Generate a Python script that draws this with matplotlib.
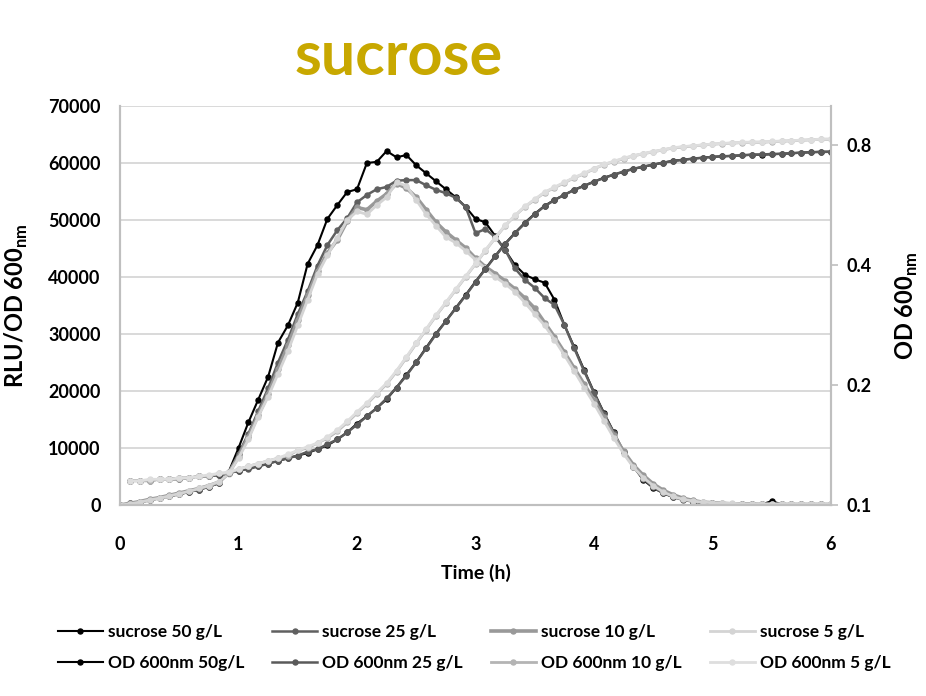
import numpy as np
import matplotlib
matplotlib.use("Agg")
import matplotlib.pyplot as plt
from matplotlib.ticker import FixedLocator, FixedFormatter, NullLocator

plt.rcParams['font.family'] = ['Lato', 'DejaVu Sans']
plt.rcParams['font.weight'] = 'bold'
plt.rcParams['mathtext.fontset'] = 'custom'
plt.rcParams['mathtext.rm'] = 'Lato:bold'
plt.rcParams['mathtext.bf'] = 'Lato:bold'

# time points, every 5 minutes (h)
time = np.arange(73) / 12.0
time_od = time[1:]

# RLU/OD600 per sucrose concentration
rlu_50 = [0, 300, 600, 900, 1300, 1600, 1900, 2300, 2700, 3200, 3800, 5800, 10000,
          14500, 18500, 22500, 28500, 31500, 35500, 42300, 45600, 50200, 52600, 54900,
          55400, 60000, 60200, 62100, 61000, 61400, 59600, 58200, 56800, 55400, 54000,
          52300, 50200, 49600, 47200, 44700, 42100, 40400, 39600, 39000, 36000, 31600,
          27700, 23700, 19800, 16200, 12800, 9300, 6700, 4400, 3000, 2100, 1400, 1000,
          600, 400, 300, 200, 100, 100, 100, 100, 700, 100, 100, 100, 100, 100, 100]
rlu_25 = [0, 200, 500, 800, 1200, 1500, 1900, 2300, 2700, 3200, 3900, 5700, 9000,
          12500, 16500, 20500, 25000, 29000, 33500, 37500, 42000, 45600, 48200, 50300,
          53100, 54400, 55400, 55800, 56900, 57000, 57000, 56100, 55300, 54700, 53900,
          52300, 47700, 48400, 47000, 44800, 41500, 39500, 38100, 36300, 35100, 31600,
          27500, 23500, 19700, 16000, 12700, 9300, 6800, 4600, 3100, 2100, 1400, 900,
          600, 400, 300, 200, 200, 100, 100, 100, 100, 100, 100, 100, 100, 100, 100]
rlu_10 = [0, 300, 600, 1000, 1300, 1700, 2100, 2500, 2900, 3400, 4000, 5600, 8500,
          12000, 15800, 19500, 23800, 28000, 32500, 36800, 41000, 44200, 46500, 49800,
          52200, 51800, 53300, 54600, 56400, 55600, 54000, 51800, 49600, 47900, 46500,
          45100, 43300, 41800, 40600, 39300, 37900, 36300, 34500, 32000, 29500, 26800,
          24000, 21200, 18400, 15400, 12300, 9400, 7000, 5200, 3700, 2600, 1800, 1200,
          800, 500, 400, 300, 200, 200, 200, 100, 100, 100, 100, 100, 100, 100, 100]
rlu_5 = [0, 200, 500, 900, 1200, 1600, 2000, 2400, 2900, 3400, 4100, 5500, 8200,
         11500, 15500, 19000, 23000, 27000, 31500, 36000, 40500, 43800, 46800, 50000,
         51500, 51000, 52600, 54000, 56600, 56000, 53500, 51000, 49000, 47000, 46000,
         44600, 43000, 41500, 40000, 38800, 37400, 35500, 33500, 31500, 29000, 26300,
         23500, 20600, 17800, 14800, 11800, 9000, 6600, 4800, 3400, 2300, 1500, 1000,
         700, 500, 400, 300, 300, 200, 200, 200, 200, 200, 200, 200, 200, 200, 200]

# OD 600nm per sucrose concentration
od_50 = [0.115, 0.115, 0.1153, 0.116, 0.116, 0.116, 0.117, 0.118, 0.118, 0.119, 0.120,
         0.122, 0.124, 0.125, 0.127, 0.129, 0.131, 0.133, 0.135, 0.138, 0.141, 0.146,
         0.152, 0.160, 0.167, 0.175, 0.184, 0.197, 0.212, 0.228, 0.248, 0.269, 0.289,
         0.312, 0.336, 0.363, 0.391, 0.421, 0.452, 0.481, 0.510, 0.537, 0.562, 0.582,
         0.599, 0.617, 0.631, 0.646, 0.661, 0.673, 0.684, 0.696, 0.704, 0.713, 0.721,
         0.729, 0.733, 0.738, 0.742, 0.746, 0.748, 0.750, 0.752, 0.755, 0.755, 0.757,
         0.759, 0.761, 0.764, 0.766, 0.768, 0.768]
od_25 = [0.115, 0.115, 0.115, 0.116, 0.116, 0.117, 0.117, 0.118, 0.118, 0.119, 0.120,
         0.122, 0.123, 0.125, 0.127, 0.129, 0.131, 0.133, 0.136, 0.138, 0.142, 0.146,
         0.152, 0.159, 0.167, 0.175, 0.185, 0.197, 0.211, 0.228, 0.247, 0.268, 0.289,
         0.311, 0.335, 0.362, 0.390, 0.420, 0.451, 0.480, 0.508, 0.536, 0.561, 0.581,
         0.599, 0.616, 0.631, 0.646, 0.660, 0.673, 0.685, 0.696, 0.705, 0.713, 0.721,
         0.728, 0.733, 0.738, 0.742, 0.745, 0.748, 0.750, 0.753, 0.755, 0.756, 0.758,
         0.759, 0.762, 0.764, 0.766, 0.767, 0.768]
od_10 = [0.115, 0.115, 0.115, 0.116, 0.116, 0.116, 0.117, 0.118, 0.118, 0.120, 0.120,
         0.123, 0.125, 0.127, 0.129, 0.131, 0.133, 0.137, 0.139, 0.143, 0.147, 0.153,
         0.161, 0.170, 0.179, 0.190, 0.201, 0.216, 0.234, 0.254, 0.275, 0.298, 0.321,
         0.346, 0.373, 0.402, 0.434, 0.467, 0.501, 0.531, 0.559, 0.582, 0.607, 0.624,
         0.642, 0.661, 0.676, 0.696, 0.713, 0.725, 0.738, 0.750, 0.759, 0.768, 0.776,
         0.785, 0.789, 0.794, 0.798, 0.802, 0.805, 0.807, 0.810, 0.811, 0.811, 0.814,
         0.816, 0.818, 0.820, 0.823, 0.825, 0.825]
od_5 = [0.115, 0.115, 0.116, 0.116, 0.116, 0.117, 0.117, 0.118, 0.119, 0.120, 0.121,
        0.123, 0.125, 0.127, 0.129, 0.131, 0.134, 0.137, 0.140, 0.143, 0.148, 0.154,
        0.162, 0.171, 0.180, 0.191, 0.202, 0.217, 0.235, 0.255, 0.276, 0.299, 0.322,
        0.347, 0.374, 0.403, 0.435, 0.468, 0.502, 0.532, 0.560, 0.584, 0.608, 0.626,
        0.644, 0.662, 0.678, 0.697, 0.714, 0.727, 0.740, 0.751, 0.760, 0.769, 0.777,
        0.786, 0.791, 0.795, 0.799, 0.803, 0.806, 0.808, 0.811, 0.812, 0.813, 0.815,
        0.817, 0.819, 0.821, 0.823, 0.826, 0.827]

rlu_labels = ['sucrose 50 g/L', 'sucrose 25 g/L', 'sucrose 10 g/L', 'sucrose 5 g/L']
od_labels = ['OD 600nm 50g/L', 'OD 600nm 25 g/L', 'OD 600nm 10 g/L', 'OD 600nm 5 g/L']

fig = plt.figure(figsize=(9.26, 6.96), dpi=100)
ax = fig.add_axes([0.1296, 0.2744, 0.7678, 0.5733])
ax2 = ax.twinx()

grid_c = '#d9d9d9'
spine_c = '#bfbfbf'

rlu_style = [('#000000', 1.5), ('#606060', 1.8), ('#999999', 2.6), ('#d4d4d4', 2.0)]
od_style = [('#000000', 1.5), ('#5a5a5a', 1.8), ('#b4b4b4', 2.0), ('#dedede', 2.0)]

rlu_lines = []
for vals, (c, lw), lab in zip([rlu_50, rlu_25, rlu_10, rlu_5], rlu_style, rlu_labels):
    l, = ax.plot(time, vals, color=c, lw=lw, marker='o', ms=3.6, mec=c, mfc=c, label=lab)
    rlu_lines.append(l)

od_lines = []
for vals, (c, lw), lab in zip([od_50, od_25, od_10, od_5], od_style, od_labels):
    l, = ax2.plot(time_od, vals, color=c, lw=lw, marker='o', ms=3.6, mec=c, mfc=c, label=lab)
    od_lines.append(l)

ax.set_xlim(0, 6)
ax.set_ylim(0, 70000)
ax.set_yticks(np.arange(0, 70001, 10000))
ax.set_xticks(np.arange(0, 7, 1))
ax.yaxis.grid(True, color=grid_c, lw=1.4)
ax.set_axisbelow(True)
ax.tick_params(axis='y', length=0, labelsize=13, pad=14)
ax.tick_params(axis='x', length=0, labelsize=13, pad=22)

ax2.set_yscale('log')
ax2.set_ylim(0.1, 1.0)
ax2.yaxis.set_major_locator(FixedLocator([0.1, 0.2, 0.4, 0.8]))
ax2.yaxis.set_major_formatter(FixedFormatter(['0.1', '0.2', '0.4', '0.8']))
ax2.yaxis.set_minor_locator(NullLocator())
ax2.tick_params(axis='y', length=5, color=spine_c, width=1.2, labelsize=13, pad=6)

for a in (ax, ax2):
    for s in a.spines.values():
        s.set_color(spine_c)
        s.set_linewidth(1.5)
    a.spines['top'].set_visible(False)

ax.set_xlabel('Time (h)', fontsize=14, fontweight='bold', labelpad=8)
ax.set_ylabel('RLU/OD 600$_{\\mathrm{nm}}$', fontsize=17, fontweight='bold', labelpad=13)
ax2.set_ylabel('OD 600$_{\\mathrm{nm}}$', fontsize=17, fontweight='bold', labelpad=16)

fig.text(0.43, 0.918, 'sucrose', color='#c8a800', fontsize=44, fontweight='bold',
         ha='center', va='center')

handles = []
for r, o in zip(rlu_lines, od_lines):
    handles += [r, o]
fig.legend(handles, [h.get_label() for h in handles], ncol=4, loc='center',
           bbox_to_anchor=(0.512, 0.07), frameon=False, fontsize=12.5,
           handlelength=2.6, columnspacing=1.6, handletextpad=0.3, labelspacing=0.85)

fig.savefig('out.png', dpi=100)
